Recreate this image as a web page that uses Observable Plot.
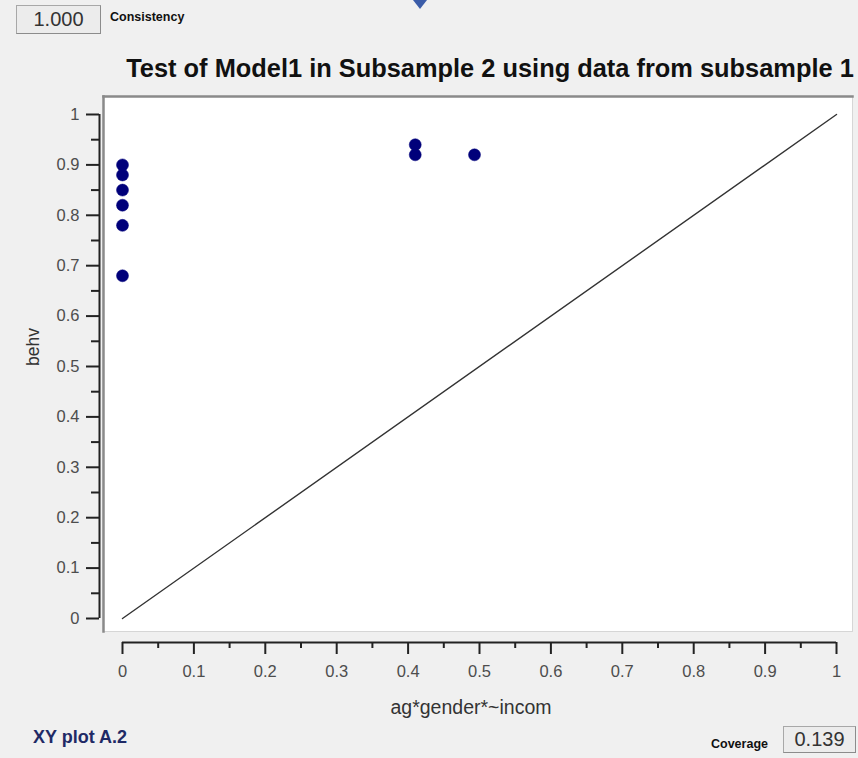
<!DOCTYPE html>
<html>
<head>
<meta charset="utf-8">
<script src="https://cdn.jsdelivr.net/npm/d3@7"></script>
<script src="https://cdn.jsdelivr.net/npm/@observablehq/plot@0.6"></script>
<style>
  html, body { margin: 0; padding: 0; background: #f0f0f0; width: 858px; height: 758px; overflow: hidden; }
  #wrap { position: relative; width: 858px; height: 758px; font-family: "Liberation Sans", Arial, sans-serif; }
  #chart { position: absolute; left: 0; top: 0; }
  .box { position: absolute; box-sizing: border-box; background: #ececec; border: 1px solid #a8a8a8; border-right-color: #8c8c8c; border-bottom-color: #8c8c8c; color: #333; font-size: 20px; text-align: center; }
  .lbl { position: absolute; font-weight: bold; color: #111; white-space: nowrap; }
  #tri { position: absolute; left: 413px; top: 0; width: 0; height: 0; border-left: 7px solid transparent; border-right: 7px solid transparent; border-top: 9px solid #3b5ca8; }
</style>
</head>
<body>
<div id="wrap">
  <div id="chart"></div>
  <div id="tri"></div>
  <div class="box" id="cons" style="left:16px; top:5px; width:85px; height:29px; line-height:27px;"></div>
  <div class="lbl" id="consLbl" style="left:110px; top:10px; font-size:12.5px;"></div>
  <div class="lbl" id="caption" style="left:33px; top:727px; font-size:18px; color:#1f2a66;"></div>
  <div class="lbl" id="covLbl" style="left:711px; top:737px; font-size:12.5px;"></div>
  <div class="box" id="cov" style="left:783px; top:726px; width:73px; height:27px; line-height:25px;"></div>
</div>
<script>
// ---- data ----
const pointX = [0, 0, 0, 0, 0, 0, 0.41, 0.41, 0.493];
const pointY = [0.90, 0.88, 0.85, 0.82, 0.78, 0.68, 0.94, 0.92, 0.92];
const diagX = [0, 1];
const diagY = [0, 1];
const xTicks = [0, 0.1, 0.2, 0.3, 0.4, 0.5, 0.6, 0.7, 0.8, 0.9, 1];
const xTickLabels = ["0", "0.1", "0.2", "0.3", "0.4", "0.5", "0.6", "0.7", "0.8", "0.9", "1"];
const yTicks = [0, 0.1, 0.2, 0.3, 0.4, 0.5, 0.6, 0.7, 0.8, 0.9, 1];
const yTickLabels = ["0", "0.1", "0.2", "0.3", "0.4", "0.5", "0.6", "0.7", "0.8", "0.9", "1"];
const xMinor = [0.05, 0.15, 0.25, 0.35, 0.45, 0.55, 0.65, 0.75, 0.85, 0.95];
const yMinor = [0.05, 0.15, 0.25, 0.35, 0.45, 0.55, 0.65, 0.75, 0.85, 0.95];
const titleText = "Test of Model1 in Subsample 2 using data from subsample 1";
const xLabel = "ag*gender*~incom";
const yLabel = "behv";
const consistencyValue = "1.000";
const consistencyLabel = "Consistency";
const coverageValue = "0.139";
const coverageLabel = "Coverage";
const captionText = "XY plot A.2";

// ---- build tables ----
const points = pointX.map((x, i) => ({x, y: pointY[i]}));
const diag = diagX.map((x, i) => ({x, y: diagY[i]}));

document.getElementById("cons").textContent = consistencyValue;
document.getElementById("consLbl").textContent = consistencyLabel;
document.getElementById("cov").textContent = coverageValue;
document.getElementById("covLbl").textContent = coverageLabel;
document.getElementById("caption").textContent = captionText;

const axisInk = "#222";
const labelInk = "#4d4d4d";

const chart = Plot.plot({
  width: 858,
  height: 758,
  marginLeft: 103,
  marginRight: 6,
  marginTop: 96,
  marginBottom: 127,
  x: {domain: [-0.0266, 1.0224]},
  y: {domain: [-0.0258, 1.0357]},
  style: {background: "transparent", fontFamily: "'Liberation Sans', Arial, sans-serif"},
  marks: [
    Plot.frame({fill: "white", stroke: "#d6d6d6"}),
    Plot.frame({anchor: "top", stroke: "#8a8a8a", strokeWidth: 2.5}),
    Plot.frame({anchor: "left", stroke: "#8a8a8a", strokeWidth: 2.5}),
    Plot.line(diag, {x: "x", y: "y", stroke: "#333", strokeWidth: 1.4}),
    Plot.dot(points, {x: "x", y: "y", r: 6, fill: "#00007a", stroke: "#00007a", strokeWidth: 0.5}),
    // y axis
    Plot.ruleX([xTicks[0]], {y1: yTicks[0], y2: yTicks[yTicks.length - 1], dx: -23, stroke: axisInk, strokeWidth: 2}),
    Plot.axisY(yTicks, {anchor: "left", tickSize: 13, dx: -4, tickPadding: 7, strokeWidth: 2, stroke: axisInk, fill: labelInk, fontSize: 16.5, tickFormat: d => yTickLabels[yTicks.indexOf(d)], label: null}),
    Plot.axisY(yMinor, {anchor: "left", tickSize: 8, dx: -4, strokeWidth: 2, stroke: axisInk, tickFormat: () => "", label: null}),
    // x axis
    Plot.ruleY([yTicks[0]], {x1: xTicks[0], x2: xTicks[xTicks.length - 1], dy: 24, stroke: axisInk, strokeWidth: 2}),
    Plot.axisX(xTicks, {anchor: "bottom", tickSize: 12, dy: 11, tickPadding: 11, strokeWidth: 2, stroke: axisInk, fill: labelInk, fontSize: 16.5, tickFormat: d => xTickLabels[xTicks.indexOf(d)], label: null}),
    Plot.axisX(xMinor, {anchor: "bottom", tickSize: 6, dy: 11, strokeWidth: 2, stroke: axisInk, tickFormat: () => "", label: null}),
    // labels
    Plot.text([xLabel], {frameAnchor: "bottom", dx: -7, dy: 82, fontSize: 19.5, fill: "#333"}),
    Plot.text([yLabel], {frameAnchor: "left", dx: -70, dy: 2, rotate: -90, fontSize: 17.5, fill: "#333"}),
    Plot.text([titleText], {frameAnchor: "top", dx: 12, dy: -38, fontSize: 25.4, fontWeight: "bold", fill: "#111"})
  ]
});
document.getElementById("chart").appendChild(chart);
</script>
</body>
</html>
